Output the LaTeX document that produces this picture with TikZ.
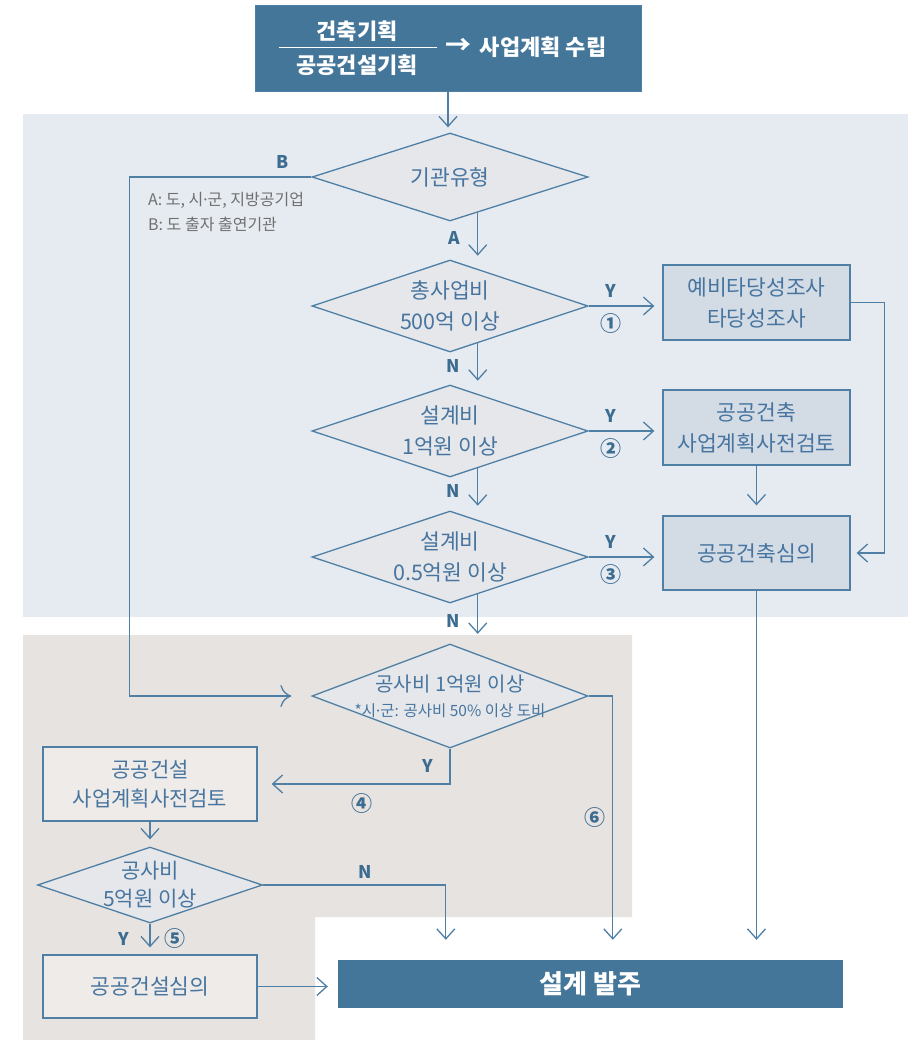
\documentclass[tikz,border=0pt]{standalone}
\usepackage{fontspec}
\setmainfont{Noto Sans CJK KR}
\newfontfamily\dotfont{Noto Sans}
\newcommand\middot{{\dotfont ·}}
\usetikzlibrary{shapes.geometric,arrows.meta,calc}

\definecolor{bgblue}{HTML}{E6EBF2}
\definecolor{bgbeige}{HTML}{E7E3E0}
\definecolor{navy}{HTML}{44769A}
\definecolor{edge}{HTML}{4F7FA4}
\definecolor{ink}{HTML}{4775A0}
\definecolor{tagblue}{HTML}{3D6C91}
\definecolor{dfill}{HTML}{E5E7EA}
\definecolor{rfill}{HTML}{D3DBE5}
\definecolor{lfill}{HTML}{EEEBE9}
\definecolor{note}{HTML}{707070}

\tikzset{
  dia/.style={diamond, aspect=3, draw=edge, fill=dfill, line width=1.3pt, inner sep=-14pt,
    minimum width=276pt, minimum height=92pt, text=ink, align=center,
    font=\fontsize{21.5}{31}\selectfont},
  box/.style={rectangle, draw=edge, fill=rfill, line width=1.3pt, text=ink, align=center,
    minimum width=187pt, minimum height=75pt, font=\fontsize{21.5}{31}\selectfont},
  head/.style={text=white, inner sep=0pt, font=\bfseries\fontsize{22}{24}\selectfont},
  yn/.style={text=tagblue, inner sep=0pt, font=\bfseries\fontsize{17.5}{18}\selectfont},
  num/.style={text=tagblue, inner sep=0pt, font=\bfseries\fontsize{21}{22}\selectfont},
  arr/.style={draw=edge, line width=1.3pt, -{Straight Barb[length=10pt,width=18pt]}},
}

\begin{document}
\begin{tikzpicture}[x=1pt,y=-1pt]
  \useasboundingbox (0,0) rectangle (921,1040);
  \fill[bgblue] (23,114) rectangle (908,617);
  \fill[bgbeige] (23,635) -- (632,635) -- (632,917) -- (315,917) -- (315,1040) -- (23,1040) -- cycle;

  \node[fill=navy, draw=edge, minimum width=386pt, minimum height=86pt] (plan) at (448,48) {};
  \node[head] (upper) at (357,31) {건축기획};
  \node[head] (lower) at (357,65) {공공건설기획};
  \draw[white, line width=1pt] (279,48) -- (437,48);
  \node[head, font=\bfseries\fontsize{26}{26}\selectfont] (sign) at (458,46) {→};
  \node[head] (goal) at (543,47) {사업계획 수립};

  \node[dia, minimum height=88pt] (d1) at (450,177) {기관유형};
  \node[dia] (d2) at (450,306) {총사업비\\500억 이상};
  \node[dia] (d3) at (450,431) {설계비\\1억원 이상};
  \node[dia] (d4) at (450,557) {설계비\\0.5억원 이상};
  \node[dia, minimum height=104pt, font=\fontsize{20}{25}\selectfont] (d5) at (450,696)
    {공사비 1억원 이상\\\fontsize{15.5}{25}\selectfont *시\middot 군: 공사비 50\% 이상 도비};
  \node[dia, minimum width=225pt, minimum height=76pt, font=\fontsize{21}{28}\selectfont] (d6) at (150,885)
    {공사비\\5억원 이상};

  \node[text=note, inner sep=0pt, anchor=west, align=left, font=\fontsize{16}{25}\selectfont] (legend) at (148,212)
    {A: 도, 시\middot 군, 지방공기업\\B: 도 출자 출연기관};

  \node[box] (feas) at (756.5,302.5) {예비타당성조사\\타당성조사};
  \node[box] (prereview) at (756.5,427.5) {공공건축\\사업계획사전검토};
  \node[box, minimum height=74pt] (review) at (756.5,553) {공공건축심의};
  \node[box, fill=lfill, minimum width=214pt, minimum height=74pt, font=\fontsize{21}{29}\selectfont] (check) at (150,784)
    {공공건설\\사업계획사전검토};
  \node[box, fill=lfill, minimum width=214pt, minimum height=63pt] (sim) at (150,986.5) {공공건설심의};
  \node[fill=navy, minimum width=505pt, minimum height=48pt, text=white,
    font=\bfseries\fontsize{26}{28}\selectfont] (order) at (590.5,984) {설계 발주};

  \draw[arr, shorten >=5pt] (plan.south) -- (plan.south |- d1.north);
  \foreach \a/\b/\t/\s in {d1/d2/A/13, d2/d3/N/13, d3/d4/N/14, d4/d5/N/20} {
    \draw[arr, shorten >=\s pt] ($(\a.east)!0.8!(\a.south)$) -- ($(\b.east)!0.8!(\b.north)$)
      node[yn, pos=.45, left=17pt] {\t};
  }
  \foreach \d/\b/\n in {d2/feas/①, d3/prereview/②, d4/review/③} {
    \draw[arr, shorten >=8pt] (\d.east) -- (\d.east -| \b.west)
      node[yn, pos=.3, above=8pt] {Y} node[num, pos=.3, below=7pt] {\n};
  }
  \draw[arr, shorten >=6pt] (feas.east) -- ++(34,0) |- (review.east);
  \draw[arr, shorten >=10pt] (prereview.south) -- (review.north);
  \draw[arr, shorten >=20pt] (review.south) -- (review.south |- order.north);

  \draw[draw=edge, line width=1.3pt, -{Computer Modern Rightarrow[length=11pt,width=22pt]}, shorten >=20pt]
    (d1.west) -- ++(-182,0) node[yn, pos=.16, above=8pt] {B} |- (d5.west);
  \draw[arr, shorten >=14pt] (d5.south) |- (check.east)
    node[yn, pos=.25, left=16pt] {Y} node[num, pos=.73, below=9pt] {④};
  \draw[arr, shorten >=20pt] (d5.east) -| ([xshift=275pt]order.north west)
    node[num, pos=.73, left=7pt] {⑥};
  \draw[arr, shorten >=7pt] (check.south) -- (d6.north);
  \draw[arr, shorten >=7pt] (d6.south) -- (sim.north)
    node[yn, midway, left=20pt] {Y} node[num, midway, right=14pt] {⑤};
  \draw[arr, shorten >=20pt] (d6.east) -| ([xshift=108pt]order.north west)
    node[yn, pos=.28, above=6pt] {N};
  \draw[arr, shorten >=10pt] (sim.east) -- (sim.east -| order.west);
\end{tikzpicture}
\end{document}
